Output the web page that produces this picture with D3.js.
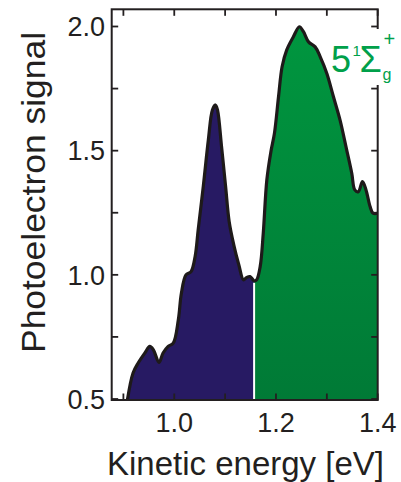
<!DOCTYPE html>
<html><head><meta charset="utf-8">
<script src="https://cdn.jsdelivr.net/npm/d3@7"></script>
<style>body{margin:0;background:#fff}svg{display:block}text{font-family:Arial,"Liberation Sans",sans-serif}</style>
</head><body><svg id="c" width="401" height="482"></svg>
<script>
const energy = [0.908,0.919,0.929,0.942,0.952,0.959,0.970,0.978,0.988,0.998,1.008,1.014,1.023,1.033,1.041,1.047,1.057,1.067,1.075,1.081,1.085,1.093,1.101,1.108,1.117,1.127,1.136,1.142,1.149,1.157,1.162,1.169,1.175,1.182,1.190,1.197,1.205,1.212,1.221,1.234,1.246,1.254,1.264,1.277,1.287,1.300,1.313,1.326,1.339,1.349,1.355,1.362,1.370,1.377,1.385,1.391,1.400];
const signal = [0.498,0.605,0.645,0.685,0.712,0.698,0.647,0.685,0.712,0.725,0.819,0.926,1.000,1.013,1.074,1.181,1.355,1.543,1.664,1.684,1.664,1.516,1.355,1.214,1.121,1.040,0.980,0.989,0.993,0.976,0.980,1.034,1.168,1.382,1.496,1.570,1.717,1.838,1.905,1.958,1.999,1.979,1.938,1.918,1.878,1.811,1.717,1.623,1.503,1.409,1.342,1.335,1.375,1.342,1.275,1.248,1.248];
const xTicks = [0.9,1.0,1.1,1.2,1.3,1.4];
const xLabels = [1.0,1.2,1.4];
const yTicks = [0.5,0.75,1.0,1.25,1.5,1.75,2.0];
const yLabels = [0.5,1.0,1.5,2.0];
const splitEnergy = 1.157;

const L=111.7,R=377.7,T=9.3,B=400;
const x = d3.scaleLinear().domain([0.877,1.4]).range([L,R]);
const y = d3.scaleLinear().domain([0.5,2.0]).range([399,26.5]);
const svg = d3.select('#c');
const data = energy.map((e,i)=>({e, s:signal[i]}));

const defs = svg.append('defs');
const grad = defs.append('linearGradient').attr('id','gg').attr('x1',0).attr('y1',0).attr('x2',0).attr('y2',1);
grad.append('stop').attr('offset','0%').attr('stop-color','#00963f');
grad.append('stop').attr('offset','100%').attr('stop-color','#007a36');
defs.append('clipPath').attr('id','cb').append('rect').attr('x',L).attr('y',T).attr('width',x(splitEnergy)-L).attr('height',B-T);
defs.append('clipPath').attr('id','cg').append('rect').attr('x',x(splitEnergy)).attr('y',T).attr('width',R-x(splitEnergy)).attr('height',B-T);
defs.append('clipPath').attr('id','cp').append('rect').attr('x',L).attr('y',T).attr('width',R-L).attr('height',B-T+3);

const curve = d3.curveCatmullRom.alpha(0.5);
const area = d3.area().x(d=>x(d.e)).y0(B).y1(d=>y(d.s)).curve(curve);
const line = d3.line().x(d=>x(d.e)).y(d=>y(d.s)).curve(curve);

svg.append('path').datum(data).attr('d',area).attr('fill','#271a63').attr('clip-path','url(#cb)');
svg.append('path').datum(data).attr('d',area).attr('fill','url(#gg)').attr('clip-path','url(#cg)');
const sIdx = energy.indexOf(splitEnergy);
svg.append('line').attr('x1',x(splitEnergy)).attr('x2',x(splitEnergy)).attr('y1',B).attr('y2',y(signal[sIdx])+2)
  .attr('stroke','#fff').attr('stroke-width',2);
svg.append('path').datum(data).attr('d',line).attr('fill','none').attr('stroke','#1e1a1a').attr('stroke-width',3.2)
  .attr('stroke-linejoin','round').attr('clip-path','url(#cp)');

// frame
svg.append('rect').attr('x',L).attr('y',T).attr('width',R-L).attr('height',B-T).attr('fill','none').attr('stroke','#231f20').attr('stroke-width',2);
const tl=6.5;
const tg = svg.append('g').attr('stroke','#231f20').attr('stroke-width',1.8);
xTicks.forEach(t=>{
  tg.append('line').attr('x1',x(t)).attr('x2',x(t)).attr('y1',B).attr('y2',B-tl);
  tg.append('line').attr('x1',x(t)).attr('x2',x(t)).attr('y1',T).attr('y2',T+tl);
});
yTicks.forEach(t=>{
  tg.append('line').attr('x1',L).attr('x2',L+tl).attr('y1',y(t)).attr('y2',y(t));
  tg.append('line').attr('x1',R).attr('x2',R-tl).attr('y1',y(t)).attr('y2',y(t));
});
xLabels.forEach(t=>{
  svg.append('text').attr('x',x(t)).attr('y',431.5).attr('text-anchor','middle').attr('font-size',27).attr('fill','#231f20').text(t.toFixed(1));
});
yLabels.forEach(t=>{
  svg.append('text').attr('x',105).attr('y',y(t)).attr('dy','0.36em').attr('text-anchor','end').attr('font-size',27).attr('fill','#231f20').text(t.toFixed(1));
});
svg.append('text').attr('x',245.5).attr('y',475).attr('text-anchor','middle').attr('font-size',33).attr('fill','#231f20').text('Kinetic energy [eV]');
svg.append('text').attr('transform','translate(45,192.5) rotate(-90)').attr('text-anchor','middle').attr('font-size',33)
  .attr('textLength',321).attr('lengthAdjust','spacingAndGlyphs').attr('fill','#231f20').text('Photoelectron signal');

// state label (white gap in frame behind it)
svg.append('rect').attr('x',R-2).attr('y',29).attr('width',5).attr('height',56).attr('fill','#fff');
const lc = '#00a04a';
const lab = svg.append('text').attr('fill',lc);
lab.append('tspan').attr('x',331).attr('y',72).attr('font-size',36).text('5');
lab.append('tspan').attr('x',352.5).attr('y',55.5).attr('font-size',15).text('1');
lab.append('tspan').attr('x',359.5).attr('y',72).attr('font-size',36).text('Σ');
lab.append('tspan').attr('x',382.5).attr('y',80).attr('font-size',16).text('g');
lab.append('tspan').attr('x',383.5).attr('y',46).attr('font-size',20).text('+');
</script></body></html>
